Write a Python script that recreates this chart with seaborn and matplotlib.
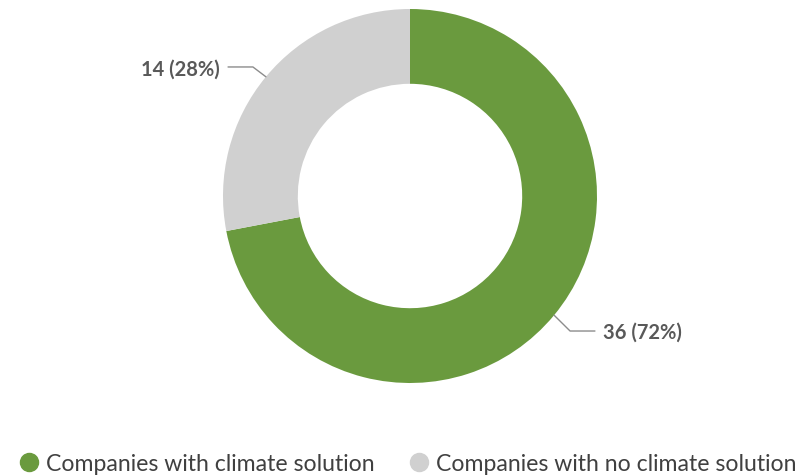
import matplotlib
matplotlib.use("Agg")
import matplotlib.pyplot as plt
import seaborn as sns
import numpy as np
from matplotlib.lines import Line2D

# data
categories = ["Companies with climate solution", "Companies with no climate solution"]
counts = [36, 14]
colors = ["#6a9a3e", "#d0d0d0"]

sns.set_theme(style="white")
plt.rcParams['font.family'] = ['Lato', 'DejaVu Sans']

fig = plt.figure(figsize=(8.06, 4.77), dpi=100)
W, H = 806, 477
cx, cy, r = 410, 197, 187
ax = fig.add_axes([(cx - r) / W, (H - cy - r) / H, 2 * r / W, 2 * r / H])

wedges, _ = ax.pie(counts, colors=colors, startangle=90, counterclock=False,
                   radius=1, wedgeprops=dict(width=0.4, linewidth=0))
ax.set_xlim(-1, 1)
ax.set_ylim(-1, 1)
ax.set_aspect("equal")
ax.axis("off")

total = sum(counts)
# leader lines + labels
for i, w in enumerate(wedges):
    mid = np.deg2rad((w.theta1 + w.theta2) / 2)
    x0, y0 = np.cos(mid), np.sin(mid)
    txt = f"{counts[i]} ({counts[i] / total:.0%})"
    if x0 < 0:
        xs = [x0, -0.84, -0.973]
        ys = [y0, 0.69, 0.69]
        ax.text(-1.015, 0.68, txt, ha="right", va="center", fontsize=14.5,
                color="#595959", fontweight="bold")
    else:
        xs = [x0, 0.856, 0.989]
        ys = [y0, -0.722, -0.722]
        ax.text(1.03, -0.727, txt, ha="left", va="center", fontsize=14.5,
                color="#595959", fontweight="bold")
    ax.plot(xs, ys, color="#8c8c8c", lw=1, clip_on=False)

handles = [Line2D([0], [0], marker="o", linestyle="", markersize=13,
                  markerfacecolor=c, markeredgecolor=c) for c in colors]
fig.legend(handles, categories, loc="center", bbox_to_anchor=(0.5 + 3 / W, 1 - 465 / H),
           ncol=2, frameon=False, fontsize=16.6, handletextpad=0.15,
           handlelength=1.2, columnspacing=1.3, labelcolor="#404040")

fig.savefig("out.png", dpi=100)
